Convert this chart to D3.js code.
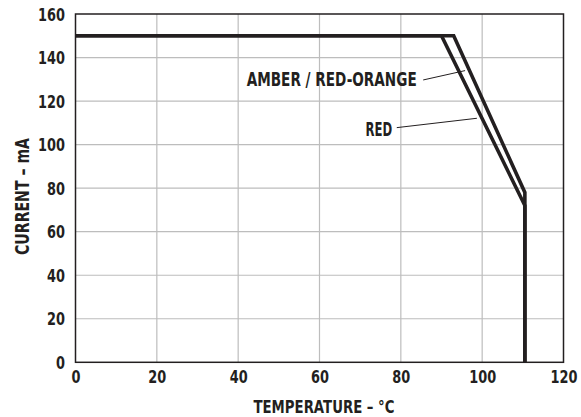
<!DOCTYPE html>
<html><head><meta charset="utf-8">
<script src="https://cdn.jsdelivr.net/npm/d3@7"></script>
<style>
body{margin:0;background:#fff;}
text{font-family:"DejaVu Sans",sans-serif;font-weight:bold;fill:#231f20;}
</style></head>
<body><svg id="c" width="581" height="417"></svg>
<script>
const xTicks=[0,20,40,60,80,100,120];
const yTicks=[0,20,40,60,80,100,120,140,160];
const redTemp=[0,90,110.5,110.5];
const redCurrent=[150,150,72,0];
const amberTemp=[0,93,110.5,110.5];
const amberCurrent=[150,150,78,0];
const labels=["AMBER / RED-ORANGE","RED"];
const labelAt=[[83.9,126.9],[77.9,104.0]];
const labelWidth=[170,26.7];
const leaders=[[[85.5,129.7],[95.8,134.0]],[[79.0,107.8],[98.7,112.1]]];

const svg=d3.select("#c");
const m={l:75.5,r:17.5,t:14,b:54.7};
const W=581,H=417;
const x=d3.scaleLinear().domain([0,120]).range([m.l,W-m.r]);
const y=d3.scaleLinear().domain([0,160]).range([H-m.b,m.t]);
const SX=0.76;

const g=svg.append("g");
g.selectAll(".vg").data(xTicks.slice(1,-1)).enter().append("line")
 .attr("x1",d=>x(d)).attr("x2",d=>x(d)).attr("y1",y(0)).attr("y2",y(160))
 .attr("stroke","#bdbdbd").attr("stroke-width",1.2);
g.selectAll(".hg").data(yTicks.slice(1,-1)).enter().append("line")
 .attr("y1",d=>y(d)).attr("y2",d=>y(d)).attr("x1",x(0)).attr("x2",x(120))
 .attr("stroke","#bdbdbd").attr("stroke-width",1.2);

const xa=d3.axisBottom(x).tickValues(xTicks).tickSize(0).tickPadding(9);
const ya=d3.axisLeft(y).tickValues(yTicks).tickSize(0).tickPadding(10.5);
const gx=svg.append("g").attr("transform",`translate(0,${y(0)})`).call(xa);
const gy=svg.append("g").attr("transform",`translate(${x(0)},0)`).call(ya);
[gx,gy].forEach(a=>{a.select(".domain").remove();a.selectAll("text").style("font-size","17px").attr("fill","#231f20").style("font-family",null).attr("transform",`scale(${SX},1)`);});
gy.selectAll("text").attr("dy","0.36em").attr("x",-10.5/SX);

svg.append("rect").attr("x",x(0)).attr("y",y(160)).attr("width",x(120)-x(0)).attr("height",y(0)-y(160))
 .attr("fill","none").attr("stroke","#231f20").attr("stroke-width",1.5);

const line=d3.line().x(d=>x(d[0])).y(d=>y(d[1]));
const series=[d3.zip(amberTemp,amberCurrent),d3.zip(redTemp,redCurrent)];
svg.selectAll(".s").data(series).enter().append("path")
 .attr("d",line).attr("fill","none").attr("stroke","#231f20").attr("stroke-width",3.6)
 .attr("stroke-linejoin","miter");

labels.forEach((t,i)=>{
 svg.append("text").attr("x",x(labelAt[i][0])-labelWidth[i]).attr("y",y(labelAt[i][1]))
  .attr("textLength",labelWidth[i]).attr("lengthAdjust","spacingAndGlyphs")
  .style("font-size","19px").text(t);
});
svg.selectAll(".ld").data(leaders).enter().append("path")
 .attr("d",d=>line(d)).attr("stroke","#231f20").attr("stroke-width",1);

svg.append("text").attr("x",324-70.5).attr("y",413.3).attr("textLength",141).attr("lengthAdjust","spacingAndGlyphs")
 .style("font-size","18px").text("TEMPERATURE – °C");
svg.append("text").attr("transform",`translate(28.5,196.5) rotate(-90)`).attr("x",-58.5)
 .attr("textLength",117).attr("lengthAdjust","spacingAndGlyphs")
 .style("font-size","19px").text("CURRENT – mA");
</script></body></html>
